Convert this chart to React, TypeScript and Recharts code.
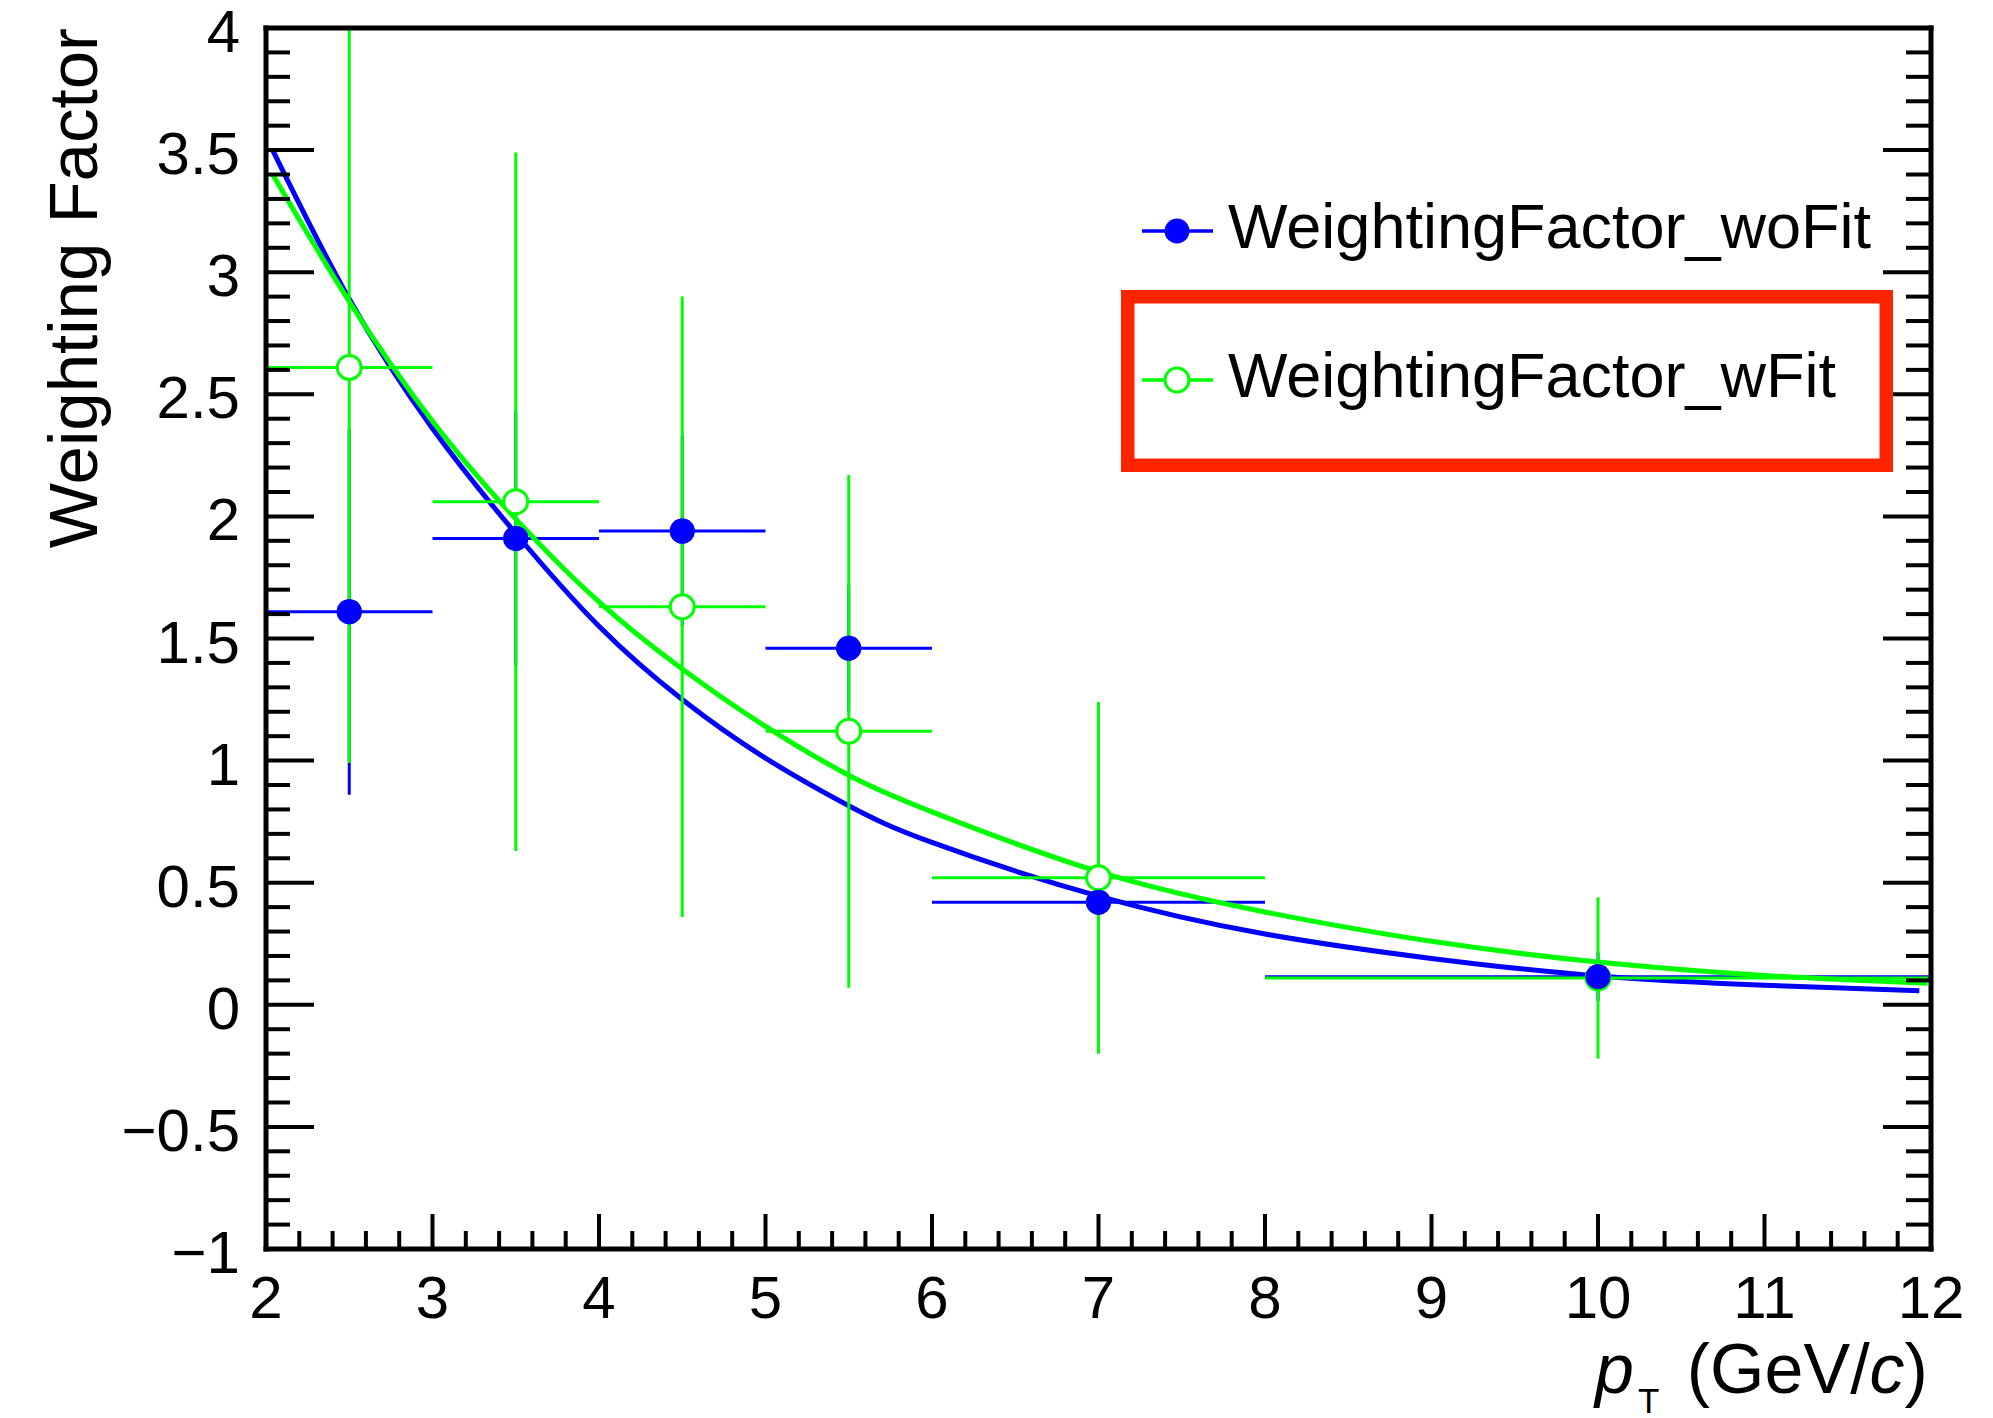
import React from "react";
import { ComposedChart, Scatter, Line, XAxis, YAxis, ErrorBar, Legend } from "recharts";

// bins in pT
const binCenters = [2.5, 3.5, 4.5, 5.5, 7, 10];
const binHalfWidths = [0.5, 0.5, 0.5, 0.5, 1, 2];

// WeightingFactor_woFit (blue, filled)
const woFitValues = [1.61, 1.91, 1.94, 1.46, 0.42, 0.115];
const woFitErrors = [0.75, 0.52, 0.39, 0.26, 0.14, 0.1];

// WeightingFactor_wFit (green, open); first bin's upper error runs off the top of the frame
const wFitValues = [2.61, 2.06, 1.63, 1.12, 0.52, 0.11];
const wFitErrLow = [1.62, 1.43, 1.27, 1.05, 0.72, 0.33];
const wFitErrHigh = [1.39, 1.43, 1.27, 1.05, 0.72, 0.33];

// fit curves
const woFitCurveX = [2.04, 2.5, 3, 3.5, 4, 4.5, 5, 5.5, 6, 7, 8, 9, 10, 11, 11.93];
const woFitCurveY = [3.5, 2.89, 2.36, 1.93, 1.55, 1.25, 1.01, 0.815, 0.665, 0.445, 0.29, 0.19, 0.118, 0.08, 0.058];
const wFitCurveX = [2.04, 2.5, 3, 3.5, 4, 4.5, 5, 5.5, 6, 7, 8, 9, 10, 11, 11.98];
const wFitCurveY = [3.4, 2.88, 2.39, 1.99, 1.65, 1.375, 1.14, 0.94, 0.79, 0.545, 0.38, 0.26, 0.175, 0.12, 0.088];

// axes
const xMajor = [2, 3, 4, 5, 6, 7, 8, 9, 10, 11, 12];
const yMajor = [-1, -0.5, 0, 0.5, 1, 1.5, 2, 2.5, 3, 3.5, 4];
const yLabels = ["\u22121", "\u22120.5", "0", "0.5", "1", "1.5", "2", "2.5", "3", "3.5", "4"];

const W = 1993;
const H = 1418;
const PL = 266;
const PR = 1931;
const PT = 28;
const PB = 1249;

const FONT = "'Liberation Sans', Arial, Helvetica, sans-serif";
const BLUE = "#0000ff";
const GREEN = "#00ff00";
const RED = "#ff2400";

const r1 = (v: number) => Math.round(v * 10) / 10;
const xTicks = xMajor.flatMap((v, i) =>
  i < xMajor.length - 1 ? [0, 0.2, 0.4, 0.6, 0.8].map((d) => r1(v + d)) : [v]
);
const yTicks = yMajor.flatMap((v, i) =>
  i < yMajor.length - 1 ? [0, 0.1, 0.2, 0.3, 0.4].map((d) => r1(v + d)) : [v]
);

const woFitPoints = binCenters.map((x, i) => ({
  x,
  y: woFitValues[i],
  ex: binHalfWidths[i],
  ey: woFitErrors[i],
}));
const wFitPoints = binCenters.map((x, i) => ({
  x,
  y: wFitValues[i],
  ex: binHalfWidths[i],
  ey: [wFitErrLow[i], wFitErrHigh[i]],
}));
const woFitCurve = woFitCurveX.map((x, i) => ({ x, y: woFitCurveY[i] }));
const wFitCurve = wFitCurveX.map((x, i) => ({ x, y: wFitCurveY[i] }));

const TICK_W = 4;

const BottomTick = ({ x, payload }: any) => {
  const v = payload.value;
  const major = xMajor.includes(v);
  return (
    <g>
      <line x1={x} x2={x} y1={PB} y2={PB - (major ? 35 : 18)} stroke="#000" strokeWidth={TICK_W} />
      {major && (
        <text x={x} y={1318} textAnchor="middle" fontSize={60} fontFamily={FONT} fill="#000">
          {v}
        </text>
      )}
    </g>
  );
};

const TopTick = ({ x, payload }: any) => {
  const major = xMajor.includes(payload.value);
  return <line x1={x} x2={x} y1={PT} y2={PT + (major ? 35 : 18)} stroke="#000" strokeWidth={TICK_W} />;
};

const LeftTick = ({ y, payload }: any) => {
  const v = payload.value;
  const idx = yMajor.indexOf(v);
  const major = idx >= 0;
  return (
    <g>
      <line x1={PL} x2={PL + (major ? 48 : 24)} y1={y} y2={y} stroke="#000" strokeWidth={TICK_W} />
      {major && (
        <text x={240} y={y + 24} textAnchor="end" fontSize={60} fontFamily={FONT} fill="#000">
          {yLabels[idx]}
        </text>
      )}
    </g>
  );
};

const RightTick = ({ y, payload }: any) => {
  const major = yMajor.includes(payload.value);
  return <line x1={PR} x2={PR - (major ? 48 : 25)} y1={y} y2={y} stroke="#000" strokeWidth={TICK_W} />;
};

const XTitle = () => (
  <text x={1595} y={1393} fontSize={70} fontFamily={FONT} fill="#000">
    <tspan fontStyle="italic">p</tspan>
    <tspan fontSize={35} dx={4} dy={20}>T</tspan>
    <tspan dx={8} dy={-20}>{" (GeV/"}</tspan>
    <tspan fontStyle="italic">c</tspan>
    <tspan>)</tspan>
  </text>
);

const YTitle = () => (
  <text
    x={97}
    y={PT}
    transform={`rotate(-90 97 ${PT})`}
    textAnchor="end"
    fontSize={69}
    fontFamily={FONT}
    fill="#000"
  >
    Weighting Factor
  </text>
);

const FilledDot = ({ cx, cy }: any) => <circle cx={cx} cy={cy} r={12.5} fill={BLUE} />;
const OpenDot = ({ cx, cy }: any) => (
  <circle cx={cx} cy={cy} r={12} fill="#fff" stroke={GREEN} strokeWidth={3} />
);

// legend box, local coords relative to (1110, 180)
const LegendBox = () => (
  <svg width={800} height={320} style={{ display: "block", overflow: "visible" }}>
    <line x1={32} x2={103} y1={51} y2={51} stroke={BLUE} strokeWidth={3.3} />
    <circle cx={67} cy={51} r={12.5} fill={BLUE} />
    <text x={118} y={68} fontSize={63} fontFamily={FONT} fill="#000">
      WeightingFactor_woFit
    </text>
    <rect x={17.75} y={116.75} width={758.5} height={168.5} fill="none" stroke={RED} strokeWidth={13.5} />
    <line x1={32} x2={103} y1={200} y2={200} stroke={GREEN} strokeWidth={3.3} />
    <circle cx={67} cy={200} r={12} fill="#fff" stroke={GREEN} strokeWidth={3} />
    <text x={118} y={217} fontSize={63} fontFamily={FONT} fill="#000">
      WeightingFactor_wFit
    </text>
  </svg>
);

const axisLine = { stroke: "#000", strokeWidth: 5, strokeLinecap: "square" as const };

// axis boxes (the custom ticks draw at fixed spots, these only reserve room)
const Y_W = 100;
const X_H = 100;
const TOP_H = 10;
const RIGHT_W = 10;

export default function App() {
  return (
    <div style={{ position: "absolute", left: 0, top: 0, width: W, height: H, background: "#fff" }}>
      <ComposedChart
        width={W}
        height={H}
        margin={{ top: PT - TOP_H, right: W - PR - RIGHT_W, bottom: H - PB - X_H, left: PL - Y_W }}
      >
        <XAxis
          dataKey="x"
          type="number"
          domain={[2, 12]}
          allowDataOverflow
          ticks={xTicks}
          interval={0}
          height={X_H}
          tickLine={false}
          axisLine={axisLine}
          tick={<BottomTick />}
          label={<XTitle />}
        />
        <XAxis
          xAxisId="top"
          orientation="top"
          type="number"
          domain={[2, 12]}
          allowDataOverflow
          ticks={xTicks}
          interval={0}
          height={TOP_H}
          tickLine={false}
          axisLine={axisLine}
          tick={<TopTick />}
        />
        <YAxis
          dataKey="y"
          type="number"
          domain={[-1, 4]}
          allowDataOverflow
          ticks={yTicks}
          interval={0}
          width={Y_W}
          tickLine={false}
          axisLine={axisLine}
          tick={<LeftTick />}
          label={<YTitle />}
        />
        <YAxis
          yAxisId="right"
          orientation="right"
          type="number"
          domain={[-1, 4]}
          allowDataOverflow
          ticks={yTicks}
          interval={0}
          width={RIGHT_W}
          tickLine={false}
          axisLine={axisLine}
          tick={<RightTick />}
        />

        <Scatter data={woFitPoints} dataKey="y" shape={<FilledDot />} isAnimationActive={false}>
          <ErrorBar dataKey="ex" direction="x" width={0} stroke={BLUE} strokeWidth={3} isAnimationActive={false} />
          <ErrorBar dataKey="ey" direction="y" width={0} stroke={BLUE} strokeWidth={3} isAnimationActive={false} />
        </Scatter>
        <Line
          data={woFitCurve}
          dataKey="y"
          type="natural"
          stroke={BLUE}
          strokeWidth={5}
          dot={false}
          activeDot={false}
          isAnimationActive={false}
        />
        <Scatter data={wFitPoints} dataKey="y" shape={<OpenDot />} isAnimationActive={false}>
          <ErrorBar dataKey="ex" direction="x" width={0} stroke={GREEN} strokeWidth={3} isAnimationActive={false} />
          <ErrorBar dataKey="ey" direction="y" width={0} stroke={GREEN} strokeWidth={3} isAnimationActive={false} />
        </Scatter>
        <Line
          data={wFitCurve}
          dataKey="y"
          type="natural"
          stroke={GREEN}
          strokeWidth={5}
          dot={false}
          activeDot={false}
          isAnimationActive={false}
        />
        {/* blue markers again on top so the last bin stays visible under the open circle */}
        <Scatter data={woFitPoints} dataKey="y" shape={<FilledDot />} isAnimationActive={false} legendType="none" />

        <Legend
          layout="vertical"
          align="center"
          verticalAlign="middle"
          content={<LegendBox />}
          wrapperStyle={{ position: "absolute", left: 1110, top: 180, width: 800, height: 320, margin: 0, padding: 0 }}
        />
      </ComposedChart>
    </div>
  );
}
